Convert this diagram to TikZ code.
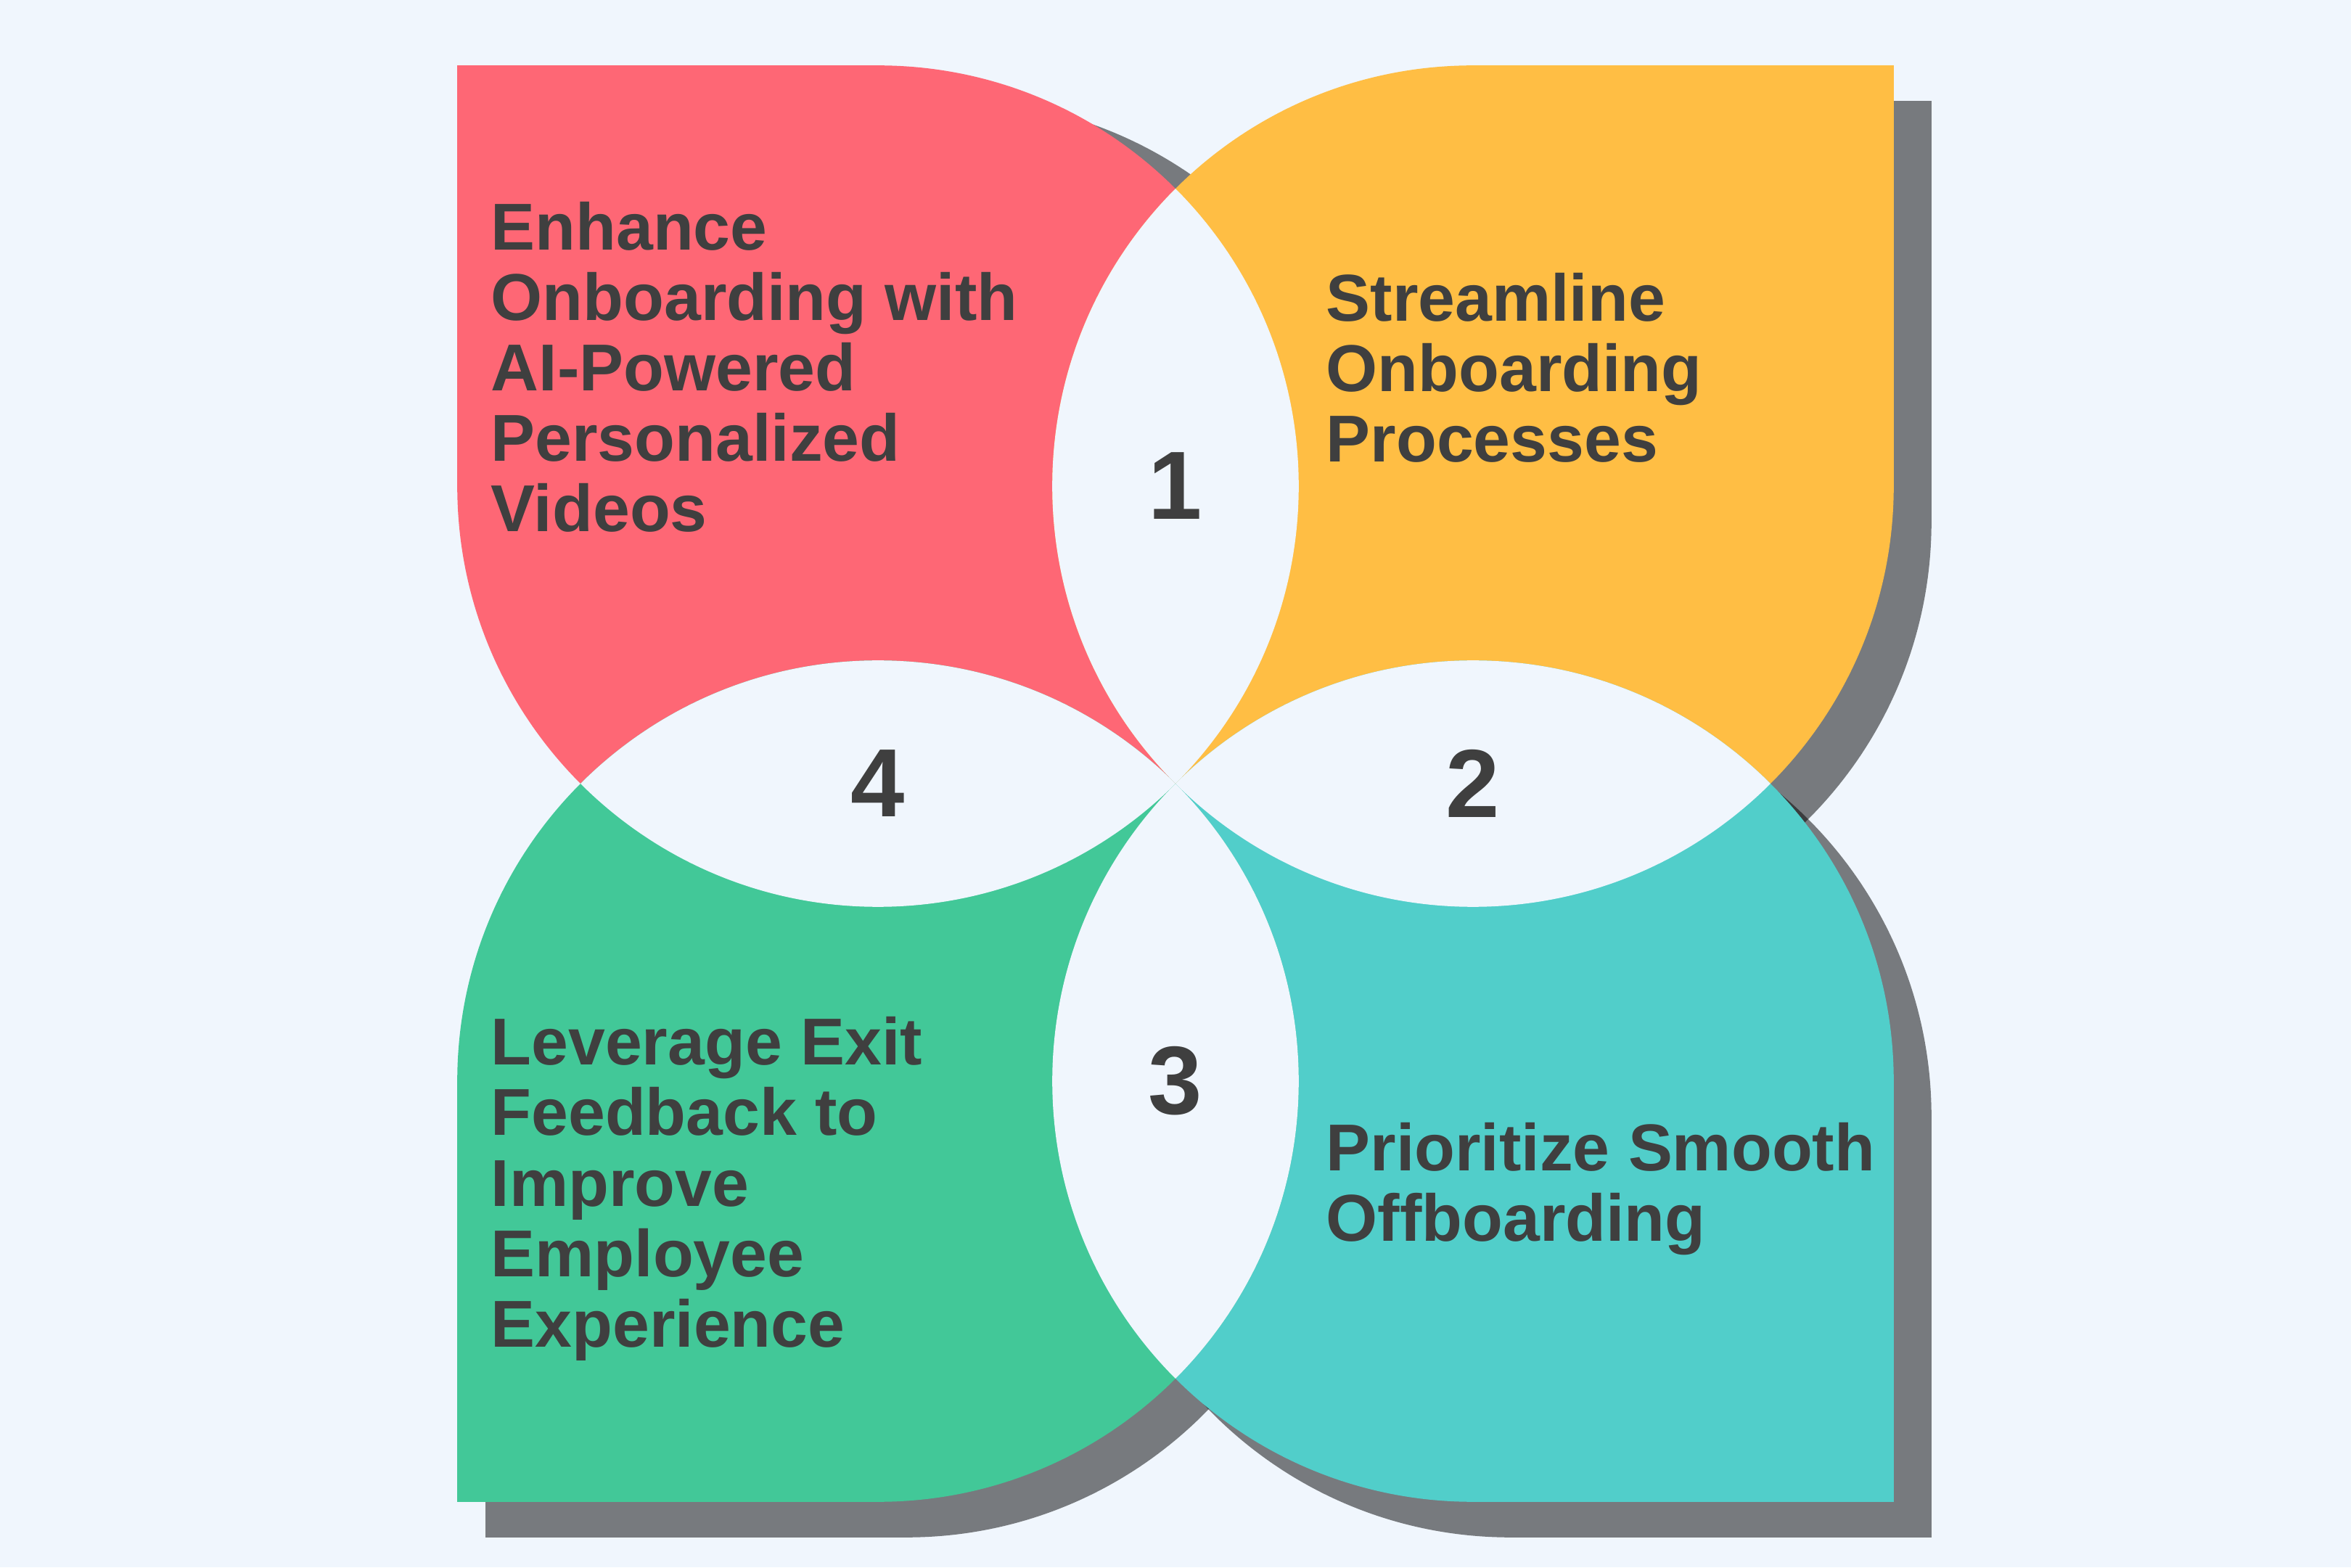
\documentclass[tikz,border=0pt]{standalone}
\usepackage{fontspec}
\setmainfont{Liberation Sans}
\definecolor{bgc}{HTML}{F0F6FD}
\definecolor{redc}{HTML}{FE6775}
\definecolor{yelc}{HTML}{FFBE44}
\definecolor{teac}{HTML}{51CECA}
\definecolor{grnc}{HTML}{42C898}
\definecolor{txtc}{HTML}{3F3F3F}
\def\D{4.1}
\def\R{5.798}
\def\E{9.898}
\newcommand\petalR[1]{\fill[#1] (-\E,\D) -- (-\E,\E) -- (-\D,\E) arc[start angle=90,end angle=-180,radius=\R] -- cycle;}
\newcommand\petalY[1]{\fill[#1] (\D,\E) -- (\E,\E) -- (\E,\D) arc[start angle=0,end angle=-270,radius=\R] -- cycle;}
\newcommand\petalT[1]{\fill[#1] (\E,-\D) -- (\E,-\E) -- (\D,-\E) arc[start angle=-90,end angle=-360,radius=\R] -- cycle;}
\newcommand\petalG[1]{\fill[#1] (-\D,-\E) -- (-\E,-\E) -- (-\E,-\D) arc[start angle=180,end angle=-90,radius=\R] -- cycle;}
\begin{document}
\begin{tikzpicture}[
  shadowfill/.style={fill=black, fill opacity=0.5},
  txt/.style={anchor=base west, align=left, inner sep=0pt, text=txtc, font=\fontsize{26pt}{27.6pt}\selectfont\bfseries},
  num/.style={inner sep=0pt, text=txtc, font=\fontsize{38pt}{40pt}\selectfont\bfseries}
]
\useasboundingbox (-16.2,-10.8) rectangle (16.2,10.8);
\fill[bgc] (-16.2,-10.8) rectangle (16.2,10.8);
% shadows
\petalR{shadowfill, shift={(1.02,-0.48)}}
\petalY{shadowfill, shift={(0.52,-0.49)}}
\petalT{shadowfill, shift={(0.52,-0.49)}}
\petalG{shadowfill, shift={(0.39,-0.49)}}
% petals
\petalR{redc}
\petalY{yelc}
\petalT{teac}
\petalG{grnc}
% lenses
\begin{scope}\clip (-\D,\D) circle (\R); \fill[bgc] (\D,\D) circle (\R);\end{scope}
\begin{scope}\clip (\D,\D) circle (\R); \fill[bgc] (\D,-\D) circle (\R);\end{scope}
\begin{scope}\clip (\D,-\D) circle (\R); \fill[bgc] (-\D,-\D) circle (\R);\end{scope}
\begin{scope}\clip (-\D,-\D) circle (\R); \fill[bgc] (-\D,\D) circle (\R);\end{scope}
% texts (anchored at the baseline of the last line)
\node[txt] (t1) at (-9.44,3.47) {Enhance\\Onboarding with\\AI-Powered\\Personalized\\Videos};
\node[txt] (t2) at (2.07,4.43) {Streamline\\Onboarding\\Processes};
\node[txt] (t3) at (2.07,-6.30) {Prioritize Smooth\\Offboarding};
\node[txt] (t4) at (-9.44,-7.76) {Leverage Exit\\Feedback to\\Improve\\Employee\\Experience};
% numbers
\node[num] (n1) at (0,\D) {1};
\node[num] (n2) at (\D,0) {2};
\node[num] (n3) at (0,-\D) {3};
\node[num] (n4) at (-\D,0) {4};
\end{tikzpicture}
\end{document}
